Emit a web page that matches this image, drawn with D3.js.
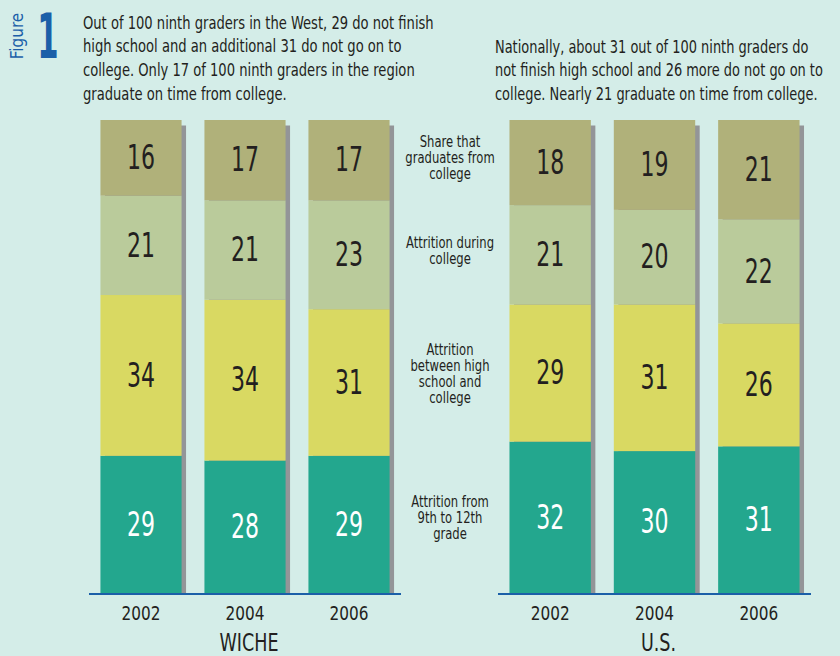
<!DOCTYPE html>
<html>
<head>
<meta charset="utf-8">
<script src="https://cdn.jsdelivr.net/npm/d3@7"></script>
<style>
  html, body { margin: 0; padding: 0; background: #d4ede8; }
  svg { display: block; font-family: "Liberation Sans Narrow", "DejaVu Sans Condensed", "Liberation Sans", sans-serif; }
</style>
</head>
<body>
<div id="chart"></div>
<script>
// data
var years = ["2002", "2004", "2006"];
var groups = ["WICHE", "U.S."];
var segmentKeys = ["hs", "between", "college", "grad"]; // bottom to top
var segmentLabels = [
    ["Attrition from", "9th to 12th", "grade"],
    ["Attrition", "between high", "school and", "college"],
    ["Attrition during", "college"],
    ["Share that", "graduates from", "college"]
];
var wicheHS = [29, 28, 29];
var wicheBetween = [34, 34, 31];
var wicheCollege = [21, 21, 23];
var wicheGrad = [16, 17, 17];
var usHS = [32, 30, 31];
var usBetween = [29, 31, 26];
var usCollege = [21, 20, 22];
var usGrad = [18, 19, 21];

var leftText = [
    "Out of 100 ninth graders in the West, 29 do not finish",
    "high school and an additional 31 do not go on to",
    "college. Only 17 of 100 ninth graders in the region",
    "graduate on time from college."
];
var rightText = [
    "Nationally, about 31 out of 100 ninth graders do",
    "not finish high school and 26 more do not go on to",
    "college. Nearly 21 graduate on time from college."
];

var colors = {hs: "#23a78e", between: "#d9d962", college: "#bacb9b", grad: "#b0b17a"};
var textDark = "#231f20";
var blue = "#1b5fa8";

var width = 840, height = 656;
var svg = d3.select("#chart").append("svg")
    .attr("width", width)
    .attr("height", height);

svg.append("rect").attr("width", width).attr("height", height).attr("fill", "#d4ede8");

// condensed text: horizontal squeeze around the anchor point
function squeeze(sel, x, y, k) {
    sel.attr("transform", "translate(" + x + "," + y + ") scale(" + k + ",1)");
}

function tableFor(hs, between, college, grad) {
    return years.map(function (y, i) {
        return {year: y, hs: hs[i], between: between[i], college: college[i], grad: grad[i]};
    });
}
var tables = [
    tableFor(wicheHS, wicheBetween, wicheCollege, wicheGrad),
    tableFor(usHS, usBetween, usCollege, usGrad)
];

var baseY = 593;
var yScale = d3.scaleLinear().domain([0, 100]).range([baseY, 120]);
var panelRanges = [[89, 401], [498, 811]];
var stack = d3.stack().keys(segmentKeys);

tables.forEach(function (table, gi) {
    var xScale = d3.scaleBand()
        .domain(years)
        .range(panelRanges[gi])
        .paddingInner(0.22)
        .paddingOuter(0.11);
    var bw = xScale.bandwidth();
    var series = stack(table);
    var g = svg.append("g").attr("class", "panel");

    // drop shadow behind each bar
    g.selectAll("rect.shadow")
        .data(table)
        .enter().append("rect")
        .attr("class", "shadow")
        .attr("x", function (d) { return xScale(d.year) + 4.5; })
        .attr("y", yScale(100) + 5.5)
        .attr("width", bw)
        .attr("height", baseY - yScale(100) - 5.5)
        .attr("fill", "#939598");

    var layers = g.selectAll("g.layer")
        .data(series)
        .enter().append("g")
        .attr("class", "layer")
        .attr("fill", function (s) { return colors[s.key]; });

    layers.selectAll("rect")
        .data(function (s) { return s; })
        .enter().append("rect")
        .attr("x", function (d) { return xScale(d.data.year); })
        .attr("y", function (d) { return yScale(d[1]); })
        .attr("width", bw)
        .attr("height", function (d) { return yScale(d[0]) - yScale(d[1]); });

    layers.each(function (s) {
        d3.select(this).selectAll("text")
            .data(s)
            .enter().append("text")
            .attr("text-anchor", "middle")
            .attr("dy", "0.36em")
            .attr("font-size", 34)
            .attr("fill", s.key === "hs" ? "#ffffff" : textDark)
            .text(function (d) { return d[1] - d[0]; })
            .each(function (d) {
                squeeze(d3.select(this), xScale(d.data.year) + bw / 2, (yScale(d[0]) + yScale(d[1])) / 2 - 1, 0.72);
            });
    });

    // baseline
    g.append("line")
        .attr("x1", panelRanges[gi][0])
        .attr("x2", panelRanges[gi][1])
        .attr("y1", baseY + 1)
        .attr("y2", baseY + 1)
        .attr("stroke", blue)
        .attr("stroke-width", 2.2);

    // year labels
    g.selectAll("text.year")
        .data(years)
        .enter().append("text")
        .attr("class", "year")
        .attr("text-anchor", "middle")
        .attr("font-size", 20)
        .attr("fill", textDark)
        .text(function (d) { return d; })
        .each(function (d) {
            squeeze(d3.select(this), xScale(d) + bw / 2, 620, 0.85);
        });

    var mid = (panelRanges[gi][0] + panelRanges[gi][1]) / 2 + 4;
    g.append("text")
        .attr("text-anchor", "middle")
        .attr("font-size", 25)
        .attr("fill", textDark)
        .text(groups[gi])
        .call(squeeze, mid, 651, 0.78);
});

// segment labels in the middle column, centred on the mean segment position
var allRows = tables[0].concat(tables[1]);
var meanStack = stack([segmentKeys.reduce(function (o, k) {
    o[k] = d3.mean(allRows, function (r) { return r[k]; });
    return o;
}, {})]);
meanStack.forEach(function (s, i) {
    var cy = (yScale(s[0][0]) + yScale(s[0][1])) / 2 - 5;
    var lines = segmentLabels[i];
    var lh = 16;
    var t = svg.append("text")
        .attr("text-anchor", "middle")
        .attr("font-size", 15)
        .attr("fill", textDark);
    t.selectAll("tspan")
        .data(lines)
        .enter().append("tspan")
        .attr("x", 0)
        .attr("y", function (d, j) { return (j - (lines.length - 1) / 2) * lh; })
        .attr("dy", "0.35em")
        .text(function (d) { return d; });
    squeeze(t, 450, cy, 0.86);
});

// header
svg.append("text")
    .attr("text-anchor", "middle")
    .attr("font-size", 17)
    .attr("fill", blue)
    .attr("transform", "translate(23,36) rotate(-90)")
    .text("Figure");

svg.append("text")
    .attr("text-anchor", "middle")
    .attr("font-size", 62)
    .attr("font-weight", "bold")
    .attr("fill", blue)
    .text("1")
    .call(squeeze, 48, 58, 0.55);

function paragraph(lines, x, y0, lh, k) {
    lines.forEach(function (line, i) {
        svg.append("text")
            .attr("font-size", 18)
            .attr("fill", textDark)
            .text(line)
            .call(squeeze, x, y0 + i * lh, k);
    });
}
paragraph(leftText, 83, 28.5, 23.7, 0.81);
paragraph(rightText, 495, 52.5, 23.5, 0.8);
</script>
</body>
</html>
